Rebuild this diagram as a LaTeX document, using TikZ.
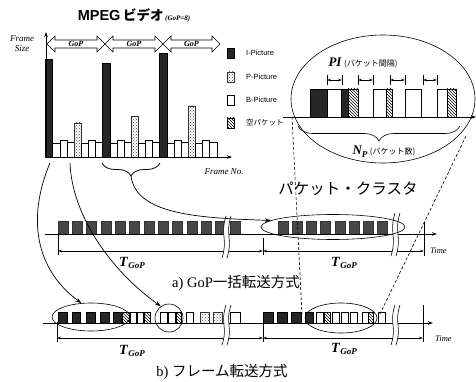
\documentclass[tikz,border=0pt]{standalone}
\usepackage{fontspec}
\setmainfont{Liberation Serif}
\newfontfamily\jpf{Noto Sans CJK JP}
\newfontfamily\sansf{Liberation Sans}
\usetikzlibrary{patterns,arrows.meta,decorations.pathreplacing,shapes.geometric}
\newcommand\gopar[3]{%
  \draw[line width=0.6pt] (#1,44) -- ({#1+8},36) -- ({#1+8},40) -- ({#2-8},40) -- ({#2-8},36) -- (#2,44) -- ({#2-8},52) -- ({#2-8},48) -- ({#1+8},48) -- ({#1+8},52) -- cycle;
  \node[gopl] (#3) at ({(#1+#2)/2},44) {GoP};}
\newcommand\brkmark[3]{%
  \pgfmathsetmacro\bha{#2+0.45*(#3-#2)}%
  \pgfmathsetmacro\bhb{#2+0.55*(#3-#2)}%
  \fill[white] ({#1+3},#2) .. controls ({#1-3},\bha) and ({#1+5},\bhb) .. ({#1-1},#3) -- ({#1+4},#3) .. controls ({#1+10},\bhb) and ({#1+2},\bha) .. ({#1+8},#2) -- cycle;
  \draw[line width=0.6pt] ({#1+3},#2) .. controls ({#1-3},\bha) and ({#1+5},\bhb) .. ({#1-1},#3);
  \draw[line width=0.6pt] ({#1+8},#2) .. controls ({#1+2},\bha) and ({#1+10},\bhb) .. ({#1+4},#3);}
\newcommand\tgop{{\fontsize{14}{14}\selectfont\bfseries\itshape T}\kern0.5pt\raisebox{-2.5pt}{\fontsize{9}{9}\selectfont\bfseries\itshape GoP}}
\begin{document}
\begin{tikzpicture}[x=1pt,y=-1pt,
  barI/.style={draw=black,fill=black!85,line width=0.5pt},
  barP/.style={draw=black!80,pattern=crosshatch dots,pattern color=black!70,line width=0.5pt},
  barB/.style={draw=black,fill=white,line width=0.5pt},
  barE/.style={draw=black,pattern=north west lines,line width=0.5pt},
  pkA/.style={draw=black!80,fill=black!72,line width=0.4pt},
  axisl/.style={line width=0.8pt},
  arr/.style={-{Stealth[length=6pt,width=4pt]},line width=0.7pt},
  dim/.style={{Stealth[length=4pt,width=2.5pt]}-{Stealth[length=4pt,width=2.5pt]},line width=0.5pt},
  gopl/.style={inner sep=0pt,font=\itshape\bfseries\fontsize{8}{8}\selectfont},
  oval/.style={ellipse,draw,line width=0.6pt,inner sep=0pt},
  txt/.style={inner sep=0pt},
  dsh/.style={dash pattern=on 3pt off 2pt,line width=0.6pt},
]
\useasboundingbox (0,0) rectangle (476,382);
\fill[white] (0,0) rectangle (476,382);

% ---------- title ----------
\node[txt] (title) at (134,15) {{\sansf\bfseries\fontsize{14.5}{14.5}\selectfont MPEG} {\jpf\bfseries\fontsize{13.5}{13.5}\selectfont ビデオ}\,{\fontsize{7}{7}\selectfont\bfseries\itshape (GoP=8)}};
\node[txt,align=center,font=\itshape\fontsize{9}{10}\selectfont] (fsize) at (22,44) {Frame\\Size};
\node[txt,font=\itshape\fontsize{9}{9}\selectfont] (fno) at (224,172) {Frame No.};

% ---------- bar chart ----------
\foreach \t/\h [count=\i from 0] in {I/59,B/143,B/140,B/142,P/123,B/143,B/140,B/142,I/63,B/143,B/140,B/142,P/116,B/143,B/140,B/142,I/53,B/143,B/140,B/142,P/106,B/143,B/140,B/142}
  \draw[style=bar\t] ({45.5+\i*7.14},157) rectangle ({45.5+(\i+1)*7.14},\h);
\draw[axisl,-{Stealth[length=5pt,width=3.5pt]}] (46,157) -- (46,32);
\draw[axisl,-{Stealth[length=5pt,width=3.5pt]}] (46,157) -- (232,157);
\gopar{47}{105}{g1}
\gopar{105}{163}{g2}
\gopar{163}{220}{g3}

% legend
\foreach \t/\y/\l [count=\j] in {I/53/I-Picture,P/77/P-Picture,B/100/B-Picture}{
  \draw[style=bar\t] (227,{\y-5}) rectangle (234,{\y+5});
  \node[txt,anchor=west,font=\sansf\fontsize{7.5}{7.5}\selectfont] (leg\j) at (246,\y) {\l};}
\draw[barE] (227,118) rectangle (234,128);
\node[txt,anchor=west,font=\jpf\fontsize{7.5}{7.5}\selectfont] (leg4) at (246,123) {空パケット};

% brace under chart
\draw[decorate,decoration={brace,amplitude=13pt},line width=0.8pt] (160,163) -- (102,163);
\coordinate (brt) at (131,176);
\coordinate (ibar) at (50,163);
\coordinate (bbar) at (70,163);

% ---------- inset ----------
\node[oval,minimum width=184pt,minimum height=128pt] (inset) at (383,99) {};
\draw[barI] (310,89) rectangle (327,117);
\draw[barB] (327,89) rectangle (341,117);
\draw[barI] (341,89) rectangle (348,117);
\draw[barE] (348,89) rectangle (358,117);
\draw[barB] (373,89) rectangle (386,117);
\draw[barE] (386,89) rectangle (392,117);
\draw[barB] (405,89) rectangle (421,117);
\draw[barB] (437,89) rectangle (447,117);
\draw[barE] (447,89) rectangle (456,117);
\draw[axisl,-{Stealth[length=5pt,width=3.5pt]}] (283,117) -- (476,117);
\foreach \a/\b in {327/342,358/373,390/405,423/437}{
  \draw[line width=0.5pt] (\a,75) -- (\a,85) (\b,75) -- (\b,85);
  \draw[dim] (\a,80) -- (\b,80);}
\node[txt] (pi) at (363,63) {{\fontsize{13}{13}\selectfont\bfseries\itshape PI} {\jpf\fontsize{8}{8}\selectfont (パケット間隔)}};
\draw[decorate,decoration={brace,amplitude=15pt},line width=0.6pt] (460,126) -- (298,126);
\node[txt] (np) at (384,152) {{\fontsize{13}{13}\selectfont\bfseries\itshape N}\raisebox{-3pt}{\fontsize{9}{9}\selectfont\bfseries\itshape P} {\jpf\fontsize{8}{8}\selectfont (パケット数)}};

% ---------- row a ----------
\foreach \k in {0,...,11} \draw[pkA] ({58+14.3*\k},221) rectangle ({68+14.3*\k},234);
\draw[pkA] (230,221) rectangle (240,234);
\foreach \k in {0,...,7} \draw[pkA] ({278+14.2*\k},221) rectangle ({288+14.2*\k},234);
\draw[axisl,-{Stealth[length=5pt,width=3.5pt]}] (45,234) -- (437,234);
\draw[line width=0.6pt] (58,233) -- (58,255) (263,238) -- (263,255) (424,222) -- (424,256);
\draw[dim] (58,251) -- (263,251);
\draw[dim] (263,251) -- (424,251);
\brkmark{223}{216}{258}
\brkmark{392}{213}{256}
\node[oval,minimum width=144pt,minimum height=25pt] (ellA) at (333,227) {};
\node[txt,anchor=west,font=\itshape\fontsize{8.5}{8.5}\selectfont] (timeA) at (430,251) {Time};
\node[txt] (tga1) at (132,263) {\tgop};
\node[txt] (tga2) at (344,263) {\tgop};
\node[txt] (capa) at (236,283) {\fontsize{14.5}{14.5}\selectfont a) GoP{\jpf 一括転送方式}};

% ---------- row b ----------
\foreach \x/\w/\t in {58/9/I,72/8/I,86/9/I,100/9/I,113/8/I,122/7/E,130/6/B,137/6/B,144/6/E,160/7/B,168/7/B,176/5/E,186/7/B,200/9/P,213/9/P,230/10/B,263/10/I,277/10/I,291/10/I,305/8/I,316/7/B,324/6/E,332/7/B,341/7/B,350/7/B,362/6/B,368/5/E,378/7/B}
  \draw[style=bar\t] (\x,312) rectangle ({\x+\w},323);
\draw[axisl,-{Stealth[length=5pt,width=3.5pt]}] (43,323) -- (433,323);
\draw[line width=0.6pt] (57,322) -- (57,342) (263,312) -- (263,342) (423,305) -- (423,342);
\draw[dim] (57,338) -- (263,338);
\draw[dim] (263,338) -- (423,338);
\brkmark{223}{305}{345}
\brkmark{392}{305}{345}
\node[oval,minimum width=78pt,minimum height=28pt] (ellB1) at (91,317) {};
\node[oval,minimum width=28pt,minimum height=28pt] (cirB) at (169,318) {};
\node[oval,minimum width=72pt,minimum height=30pt] (ellB2) at (341,318) {};
\node[txt,anchor=west,font=\itshape\fontsize{8.5}{8.5}\selectfont] (timeB) at (435,339) {Time};
\node[txt] (tgb1) at (132,351) {\tgop};
\node[txt] (tgb2) at (344,349) {\tgop};
\node[txt] (capb) at (222,372) {\fontsize{14.5}{14.5}\selectfont b) {\jpf フレーム転送方式}};

% ---------- cluster label and dashed guides ----------
\node[txt] (clus) at (348,189) {\jpf\fontsize{15.5}{15.5}\selectfont パケット・クラスタ};
\coordinate (dl1) at (292,117);
\coordinate (dl2) at (302,314);
\coordinate (dr1) at (466,136);
\coordinate (dr2) at (378,318);
\draw[dsh] (dl1) -- (dl2);
\draw[dsh] (dr1) -- (dr2);

% ---------- curved arrows ----------
\draw[arr] (brt) .. controls (136,215) and (200,218) .. (ellA.174);
\draw[arr] (ibar) .. controls (30,210) and (30,265) .. (ellB1.125);
\draw[arr] (bbar) .. controls (72,215) and (110,270) .. (cirB.125);
\end{tikzpicture}
\end{document}
